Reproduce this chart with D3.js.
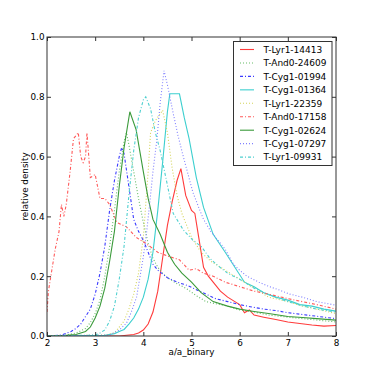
<!DOCTYPE html>
<html><head><meta charset="utf-8">
<script src="https://cdn.jsdelivr.net/npm/d3@7"></script>
<style>body{margin:0;background:#fff}svg{display:block}text{font-family:"DejaVu Sans",sans-serif}</style>
</head><body><svg id="c" width="374" height="374"></svg>
<script>
const seriesNames = ["T-Lyr1-14413","T-And0-24609","T-Cyg1-01994","T-Cyg1-01364","T-Lyr1-22359","T-And0-17158","T-Cyg1-02624","T-Cyg1-07297","T-Lyr1-09931"];
const xTicks = [2,3,4,5,6,7,8];
const yTicks = [0,0.2,0.4,0.6,0.8,1.0];

const lyr14413X = [2,3.5,3.8,3.9,4.0,4.1,4.2,4.3,4.4,4.5,4.6,4.7,4.78,4.88,5.0,5.07,5.15,5.25,5.35,5.45,5.6,5.75,5.9,6.0,6.1,6.2,6.3,6.5,6.75,7.0,7.25,7.5,7.75,8.0];
const lyr14413Y = [0,0,0.005,0.01,0.02,0.04,0.08,0.15,0.26,0.37,0.45,0.52,0.56,0.47,0.42,0.41,0.33,0.23,0.2,0.18,0.15,0.13,0.115,0.105,0.078,0.087,0.07,0.063,0.055,0.047,0.042,0.037,0.033,0.035];

const and24609X = [2,2.4,2.6,2.8,2.9,3.0,3.1,3.2,3.3,3.4,3.5,3.6,3.65,3.7,3.8,3.9,4.0,4.1,4.2,4.3,4.4,4.5,4.7,4.9,5.1,5.3,5.5,5.75,6.0,6.3,6.6,7.0,7.5,8.0];
const and24609Y = [0,0.003,0.01,0.025,0.045,0.075,0.12,0.2,0.3,0.42,0.55,0.65,0.68,0.64,0.55,0.46,0.38,0.31,0.26,0.23,0.21,0.195,0.175,0.158,0.135,0.115,0.108,0.1,0.087,0.08,0.07,0.063,0.055,0.047];

const cyg01994X = [2,2.3,2.5,2.6,2.7,2.8,2.9,3.0,3.1,3.2,3.3,3.4,3.5,3.55,3.6,3.7,3.8,3.9,4.0,4.1,4.2,4.3,4.5,4.7,4.9,5.1,5.3,5.5,5.75,6.0,6.25,6.5,6.75,7.0,7.5,8.0];
const cyg01994Y = [0,0.003,0.015,0.025,0.04,0.065,0.09,0.14,0.21,0.3,0.42,0.52,0.6,0.63,0.61,0.5,0.39,0.35,0.32,0.28,0.24,0.22,0.195,0.18,0.17,0.155,0.14,0.125,0.115,0.105,0.097,0.09,0.085,0.078,0.068,0.058];

const cyg01364X = [2,3.2,3.4,3.5,3.6,3.7,3.8,3.9,4.0,4.1,4.2,4.3,4.4,4.5,4.55,4.75,4.85,4.95,5.1,5.25,5.45,5.7,5.9,6.1,6.3,6.5,6.75,7.0,7.25,7.5,7.75,8.0];
const cyg01364Y = [0,0.002,0.008,0.015,0.022,0.04,0.06,0.09,0.13,0.19,0.28,0.42,0.58,0.75,0.81,0.81,0.73,0.66,0.53,0.43,0.34,0.28,0.23,0.18,0.165,0.145,0.13,0.12,0.105,0.1,0.09,0.083];

const lyr22359X = [2,3.2,3.4,3.5,3.6,3.7,3.8,3.9,4.0,4.1,4.15,4.25,4.4,4.5,4.6,4.7,4.8,5.0,5.2,5.4,5.6,5.8,6.0,6.3,6.6,7.0,7.3,7.6,8.0];
const lyr22359Y = [0,0.003,0.01,0.03,0.05,0.09,0.14,0.21,0.33,0.55,0.68,0.72,0.755,0.68,0.56,0.47,0.41,0.33,0.28,0.25,0.23,0.21,0.19,0.16,0.13,0.115,0.1,0.09,0.075];

const and17158X = [2.0,2.03,2.1,2.17,2.25,2.3,2.35,2.4,2.48,2.55,2.6,2.65,2.7,2.75,2.8,2.83,2.9,3.0,3.1,3.2,3.3,3.45,3.65,3.85,4.05,4.3,4.55,4.75,4.95,5.1,5.25,5.45,5.7,6.0,6.3,6.6,7.0,7.3,7.6,8.0];
const and17158Y = [0.08,0.15,0.22,0.29,0.35,0.44,0.4,0.44,0.55,0.66,0.67,0.68,0.6,0.58,0.6,0.68,0.53,0.54,0.46,0.46,0.44,0.38,0.365,0.33,0.31,0.28,0.265,0.255,0.22,0.225,0.21,0.2,0.18,0.165,0.15,0.14,0.125,0.115,0.105,0.09];

const cyg02624X = [2,2.4,2.6,2.8,2.9,3.0,3.1,3.2,3.3,3.4,3.5,3.6,3.72,3.85,4.0,4.1,4.2,4.35,4.5,4.65,4.8,5.0,5.2,5.45,5.75,6.0,6.3,6.6,7.0,7.3,7.6,8.0];
const cyg02624Y = [0,0.002,0.005,0.015,0.03,0.06,0.1,0.16,0.25,0.35,0.5,0.63,0.75,0.69,0.55,0.46,0.39,0.34,0.28,0.24,0.21,0.18,0.145,0.115,0.1,0.09,0.082,0.075,0.065,0.062,0.058,0.053];

const cyg07297X = [2,3.3,3.5,3.65,3.75,3.86,4.0,4.07,4.14,4.2,4.28,4.35,4.43,4.5,4.62,4.72,4.83,4.93,5.03,5.15,5.25,5.4,5.55,5.7,5.87,6.0,6.15,6.4,6.62,6.8,7.04,7.3,7.6,8.0];
const cyg07297Y = [0,0.003,0.02,0.043,0.08,0.13,0.265,0.35,0.455,0.55,0.655,0.78,0.887,0.84,0.745,0.67,0.6,0.54,0.48,0.43,0.39,0.35,0.32,0.29,0.24,0.22,0.2,0.18,0.165,0.155,0.14,0.13,0.115,0.103];

const lyr09931X = [2,3.0,3.1,3.2,3.3,3.4,3.5,3.6,3.7,3.8,3.9,4.0,4.05,4.1,4.15,4.25,4.35,4.48,4.62,4.83,5.03,5.2,5.38,5.55,5.75,6.0,6.3,6.62,7.0,7.33,7.6,8.0];
const lyr09931Y = [0,0.003,0.01,0.02,0.05,0.1,0.19,0.3,0.47,0.62,0.73,0.79,0.8,0.78,0.76,0.68,0.62,0.52,0.41,0.355,0.32,0.3,0.26,0.235,0.21,0.19,0.16,0.137,0.115,0.1,0.09,0.08];

const seriesX = [lyr14413X,and24609X,cyg01994X,cyg01364X,lyr22359X,and17158X,cyg02624X,cyg07297X,lyr09931X];
const seriesY = [lyr14413Y,and24609Y,cyg01994Y,cyg01364Y,lyr22359Y,and17158Y,cyg02624Y,cyg07297Y,lyr09931Y];
const colors = ["#ff3b3b","#66bb66","#3b3bff","#3ccfcf","#d4d45a","#ff5a5a","#3a9a3a","#8080ff","#4fd0d0"];
const dashes = [null,"1,2","3,2,1,2",null,"1,2","3,2,1,2",null,"1,2","3,2,1,2"];

const svg = d3.select("#c");
const L=47,R=336,T=37,B=336;
const x = d3.scaleLinear().domain([2,8]).range([L,R]);
const y = d3.scaleLinear().domain([0,1]).range([B,T]);

const plot = svg.append("g");
plot.append("defs").append("clipPath").attr("id","clip").append("rect").attr("x",L).attr("y",T).attr("width",R-L).attr("height",B-T);
const lines = plot.append("g").attr("clip-path","url(#clip)");
const line = d3.line().x(d=>x(d[0])).y(d=>y(d[1]));
seriesX.forEach((xs,i)=>{
  const pts = xs.map((v,j)=>[v,seriesY[i][j]]);
  lines.append("path").datum(pts).attr("d",line).attr("fill","none")
    .attr("stroke",colors[i]).attr("stroke-width",1.1)
    .attr("stroke-dasharray",dashes[i]);
});

const fmtY = d3.format(".1f");
const gx = svg.append("g").attr("transform",`translate(0,${B})`)
  .call(d3.axisBottom(x).tickValues(xTicks).tickSizeInner(-4).tickSizeOuter(0).tickPadding(3.5).tickFormat(d3.format("d")));
const gxt = svg.append("g").attr("transform",`translate(0,${T})`)
  .call(d3.axisTop(x).tickValues(xTicks).tickSizeInner(-4).tickSizeOuter(0).tickFormat(""));
const gy = svg.append("g").attr("transform",`translate(${L},0)`)
  .call(d3.axisLeft(y).tickValues(yTicks).tickSizeInner(-4).tickSizeOuter(0).tickPadding(2.5).tickFormat(fmtY));
const gyr = svg.append("g").attr("transform",`translate(${R},0)`)
  .call(d3.axisRight(y).tickValues(yTicks).tickSizeInner(-4).tickSizeOuter(0).tickFormat(""));
[gx,gxt,gy,gyr].forEach(g=>{
  g.select(".domain").remove();
  g.selectAll(".tick line").attr("stroke","#333");
  g.selectAll("text").attr("font-size","8.8px").attr("fill","#000").attr("font-family","DejaVu Sans");
});
svg.append("rect").attr("x",L).attr("y",T).attr("width",R-L).attr("height",B-T)
  .attr("fill","none").attr("stroke","#333").attr("stroke-width",1);

svg.append("text").attr("x",(L+R)/2).attr("y",355).attr("text-anchor","middle")
  .attr("font-size","8.8px").text("a/a_binary");
svg.append("text").attr("transform",`translate(28,${(T+B)/2}) rotate(-90)`).attr("text-anchor","middle")
  .attr("font-size","8.8px").text("relative density");

// legend
const lg = svg.append("g");
lg.append("rect").attr("x",233.5).attr("y",41.5).attr("width",98.5).attr("height",124)
  .attr("fill","#fff").attr("stroke","#333").attr("stroke-width",1);
seriesNames.forEach((n,i)=>{
  const yy = 49.5 + i*13.45;
  lg.append("line").attr("x1",240).attr("x2",254).attr("y1",yy).attr("y2",yy)
    .attr("stroke",colors[i]).attr("stroke-width",1.1).attr("stroke-dasharray",dashes[i]);
  lg.append("text").attr("x",263.5).attr("y",yy+3.3).attr("font-size","9px").text(n);
});
</script></body></html>
